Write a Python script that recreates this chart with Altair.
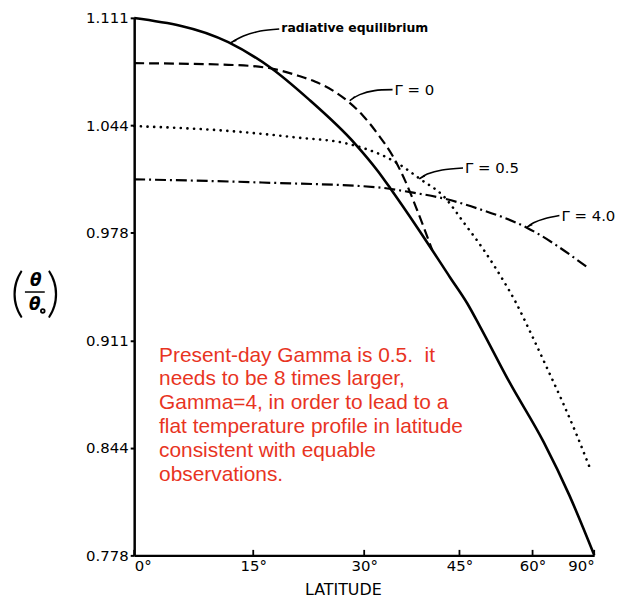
import altair as alt
import pandas as pd

# ---------------- data ----------------
# latitude in degrees, theta/theta0
RE_LAT = [0, 11.8, 17.3, 22.2, 28.7, 32.0, 33.9, 38.0, 43.4, 46.4, 48.7, 54.7, 62.9, 71.1, 90]
RE_VAL = [1.111, 1.096, 1.080, 1.061, 1.033, 1.016, 1.005, 0.981, 0.950, 0.934, 0.920, 0.885, 0.848, 0.815, 0.778]

G0_LAT = [0, 11.8, 17.0, 20.9, 23.2, 25.6, 27.7, 29.8, 32.0, 34.2, 36.1, 38.0, 40.4]
G0_VAL = [1.083, 1.082, 1.080, 1.0752, 1.0715, 1.0660, 1.0593, 1.0506, 1.0389, 1.0254, 1.0100, 0.9915, 0.9669]

G05_LAT = [0, 11.8, 20.5, 27.7, 34.9, 38.5, 42.4, 45.8, 49.5, 53.0, 56.0, 59.3, 63.4, 68.6, 74.0, 81.6]
G05_VAL = [1.044, 1.041, 1.037, 1.033, 1.021, 1.011, 1.000, 0.984, 0.967, 0.950, 0.935, 0.917, 0.896, 0.873, 0.853, 0.833]

G4_LAT = [0, 16.1, 32.0, 36.9, 42.4, 48.2, 58.6, 79.3]
G4_VAL = [1.011, 1.009, 1.006, 1.003, 0.999, 0.993, 0.981, 0.957]

Y_TICKS = [0.7778, 0.8444, 0.9111, 0.9778, 1.0444, 1.1111]
X_TICK_LATS = [0, 15, 30, 45, 60, 90]

CURVE_LABELS = ["radiative equilibrium", "Γ = 0", "Γ = 0.5", "Γ = 4.0"]
NOTE_LINES = [
    "Present-day Gamma is 0.5.\u00a0 it",
    "needs to be 8 times larger,",
    "Gamma=4, in order to lead to a",
    "flat temperature profile in latitude",
    "consistent with equable",
    "observations.",
]

# annotation anchors (in data units: latitude, theta/theta0)
LABEL_LAT = [18.65, 34.46, 45.99, 68.24]
LABEL_VAL = [1.1048, 1.0666, 1.0180, 0.9885]

ARROW_ID = [1, 1, 1, 1, 2, 2, 2, 2, 3, 3, 3, 3, 4, 4, 4, 4]
ARROW_K = [0, 1, 2, 3] * 4
ARROW_LAT = [18.38, 15.92, 13.74, 12.09,
             34.17, 31.51, 29.36, 27.95,
             45.63, 42.03, 39.58, 38.31,
             67.58, 63.13, 60.26, 58.55]
ARROW_VAL = [1.1042, 1.1029, 1.0998, 1.0955,
             1.0666, 1.0660, 1.0635, 1.0598,
             1.0180, 1.0168, 1.0143, 1.0112,
             0.9885, 0.9866, 0.9841, 0.9811]
HEAD_LAT = [12.54, 28.40, 38.84, 59.36]
HEAD_VAL = [1.0967, 1.0613, 1.0125, 0.9823]
HEAD_ANGLE = [242, 233, 238, 239]

NOTE_LAT = [3.1]
NOTE_VAL = [0.898]

# y-axis title pieces: ( theta / theta0 )
PAREN_TXT = ["(", ")"]
PAREN_LAT = [-14.70, -10.14]
PAREN_VAL = [0.9392, 0.9392]
THETA_LAT = [-12.35, -12.47]
THETA_VAL = [0.9478, 0.9331]
BAR_LAT = [-13.74]
BAR_LAT2 = [-11.21]
BAR_VAL = [0.9411]
SUB_LAT = [-11.46]
SUB_VAL = [0.9294]

# ---------------- chart ----------------
SIN = "sin(datum.lat*PI/180)"
tick_values = [0.0, 0.25882, 0.5, 0.70711, 0.86603, 1.0]

X = alt.X(
    "s:Q",
    scale=alt.Scale(domain=[0, 1], nice=False, zero=False),
    axis=alt.Axis(
        values=tick_values,
        labelExpr="round(asin(datum.value)*180/PI) + '°'",
        ticks=False, tickSize=0, grid=False,
        labelPadding=3, labelFont="DejaVu Sans", labelFontSize=15,
        labelColor="black", domainColor="black", domainWidth=2.5,
        title="LATITUDE", titleFont="DejaVu Sans", titleFontSize=16,
        titleFontWeight="normal", titleColor="black",
        titleX=210, titleY=26, titleBaseline="top",
    ),
)
Y = alt.Y(
    "v:Q",
    scale=alt.Scale(domain=[0.7778, 1.1111], nice=False, zero=False),
    axis=alt.Axis(
        values=Y_TICKS, format=".3f", grid=False,
        tickSize=4, tickWidth=2, tickColor="black", labelPadding=2,
        labelFont="DejaVu Sans", labelFontSize=15, labelColor="black",
        domainColor="black", domainWidth=2.5, title=None,
    ),
)


def series(lats, vals):
    return pd.DataFrame({"lat": lats, "v": vals})


def line_layer(df, **kw):
    return alt.Chart(df).transform_calculate(s=SIN).mark_line(
        color="black", interpolate="monotone", **kw
    ).encode(x=X, y=Y)


re_line = line_layer(series(RE_LAT, RE_VAL), strokeWidth=2.6)
g0_line = line_layer(series(G0_LAT, G0_VAL), strokeWidth=2.2, strokeDash=[10, 5])
g05_line = line_layer(series(G05_LAT, G05_VAL), strokeWidth=2.6,
                      strokeDash=[0.1, 6.6], strokeCap="round")
g4_line = line_layer(series(G4_LAT, G4_VAL), strokeWidth=2.2, strokeDash=[11, 4, 2, 4])

# inward x ticks
xticks_df = pd.DataFrame({"lat": X_TICK_LATS, "v": [0.7778] * 6, "v2": [0.7812] * 6})
xticks = alt.Chart(xticks_df).transform_calculate(s=SIN).mark_rule(
    color="black", strokeWidth=1.8
).encode(x=X, y=Y, y2="v2:Q")

# curve labels
lab_df = pd.DataFrame({"lat": LABEL_LAT, "v": LABEL_VAL, "t": CURVE_LABELS})
re_lab = alt.Chart(lab_df.iloc[:1]).transform_calculate(s=SIN).mark_text(
    align="left", baseline="middle", font="DejaVu Sans", fontSize=12.5,
    fontWeight="bold", color="black"
).encode(x=X, y=Y, text="t:N")
g_lab = alt.Chart(lab_df.iloc[1:]).transform_calculate(s=SIN).mark_text(
    align="left", baseline="middle", font="DejaVu Sans", fontSize=15,
    color="black"
).encode(x=X, y=Y, text="t:N")

arrow_df = pd.DataFrame({"lat": ARROW_LAT, "v": ARROW_VAL, "id": ARROW_ID, "k": ARROW_K})
arrows = alt.Chart(arrow_df).transform_calculate(s=SIN).mark_line(
    color="black", strokeWidth=1.6, interpolate="cardinal"
).encode(x=X, y=Y, detail="id:N", order="k:Q")

head_df = pd.DataFrame({"lat": HEAD_LAT, "v": HEAD_VAL, "a": HEAD_ANGLE})
heads = alt.Chart(head_df).transform_calculate(s=SIN).mark_point(
    shape="wedge", filled=True, color="black", size=70, opacity=1
).encode(x=X, y=Y, angle=alt.Angle("a:Q", scale=None))

# red note
note_df = pd.DataFrame({"lat": NOTE_LAT, "v": NOTE_VAL})
note = alt.Chart(note_df).transform_calculate(s=SIN).mark_text(
    text=NOTE_LINES, align="left", baseline="alphabetic", font="Liberation Sans",
    fontSize=21, lineHeight=24, color="#e8341f"
).encode(x=X, y=Y)

# y-axis title ( theta / theta0 )
paren_df = pd.DataFrame({"lat": PAREN_LAT, "v": PAREN_VAL, "t": PAREN_TXT})
parens = alt.Chart(paren_df).transform_calculate(s=SIN).mark_text(
    align="center", baseline="middle", font="Lato", fontSize=54, fontWeight=300,
    color="black"
).encode(x=X, y=Y, text="t:N")
theta_df = pd.DataFrame({"lat": THETA_LAT, "v": THETA_VAL, "t": ["θ", "θ"]})
thetas = alt.Chart(theta_df).transform_calculate(s=SIN).mark_text(
    align="center", baseline="middle", font="DejaVu Sans", fontSize=17,
    fontStyle="italic", fontWeight="bold", color="black"
).encode(x=X, y=Y, text="t:N")
bar_df = pd.DataFrame({"lat": BAR_LAT, "lat2": BAR_LAT2, "v": BAR_VAL})
bar = alt.Chart(bar_df).transform_calculate(
    s=SIN, s2="sin(datum.lat2*PI/180)"
).mark_rule(color="black", strokeWidth=1.5).encode(x=X, x2="s2:Q", y=Y)
sub_df = pd.DataFrame({"lat": SUB_LAT, "v": SUB_VAL})
sub = alt.Chart(sub_df).transform_calculate(s=SIN).mark_point(
    shape="circle", filled=False, color="black", size=14, strokeWidth=1.8, opacity=1
).encode(x=X, y=Y)

chart = alt.layer(
    re_line, g0_line, g05_line, g4_line, xticks,
    arrows, heads, re_lab, g_lab, note,
    parens, thetas, bar, sub,
).properties(
    width=463, height=541,
    padding={"left": 127, "top": 8, "right": 30, "bottom": 44},
    autosize=alt.AutoSizeParams(type="none"),
    background="white",
).configure_view(stroke=None)

chart.save("out.html", embed_options={"renderer": "svg", "actions": False})
